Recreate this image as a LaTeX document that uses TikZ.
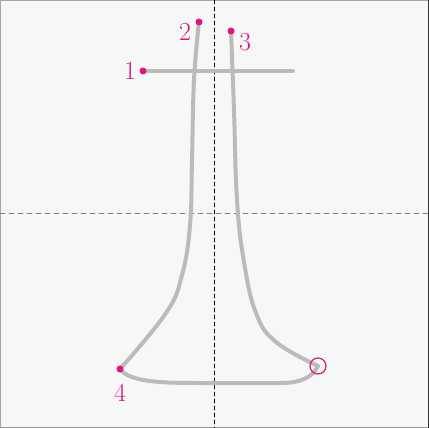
\documentclass[tikz,border=0pt]{standalone}
\usepackage{tikz}
\definecolor{bgpaper}{HTML}{F6F8F7}
\definecolor{strokegray}{HTML}{BBBBBB}
\definecolor{markpink}{HTML}{E0157F}
\tikzset{
  stroke/.style={strokegray,line width=4pt,line cap=round,line join=round},
  startdot/.style={markpink},
  numlabel/.style={text=markpink,font=\fontsize{26}{26}\selectfont,inner sep=0pt}
}
\begin{document}
\begin{tikzpicture}[x=1pt,y=-1pt,line cap=round,line join=round]
  % 背景与边框
  \fill[bgpaper] (0,0) rectangle (429,428);
  \useasboundingbox (0,0) rectangle (429,428);
  \draw[gray!70,line width=1.5pt] (0,428) -- (0,0) -- (429,0);
  \draw[gray!80,line width=1.5pt] (0,428) -- (429,428);
  \draw[black!80,line width=1.5pt] (429,0) -- (429,428);

  % 十字辅助虚线
  \draw[gray,dash pattern=on 5pt off 4pt,line width=0.8pt] (0,213) -- (429,213);
  \draw[black,dash pattern=on 4pt off 3pt,line width=0.8pt] (214,0) -- (214,428);

  % 第1画：横
  \draw[stroke] (143,71) -- (293,71);

  % 第2画：左竖撇
  \draw[stroke] plot[smooth,tension=0.7] coordinates
    {(199,22) (194,80) (192,160) (190,225) (182,275) (166,313) (120,369)};

  % 第3画：右竖
  \draw[stroke] plot[smooth,tension=0.7] coordinates
    {(231,31) (234,110) (237,200) (244,262) (256,313) (276,342) (318,366)};

  % 第4画：底横
  \draw[stroke] (120,369) .. controls (130,382) and (160,383) .. (200,383)
    -- (280,383) .. controls (300,383) and (312,378) .. (318,366);

  % 起笔点与序号
  \fill[startdot] (143,71) circle (3.5pt);
  \fill[startdot] (199,22) circle (3.5pt);
  \fill[startdot] (231,31) circle (3.5pt);
  \fill[startdot] (120,369) circle (3.5pt);
  \node[numlabel] (n1) at (130,71) {1};
  \node[numlabel] (n2) at (185,32) {2};
  \node[numlabel] (n3) at (245,42) {3};
  \node[numlabel] (n4) at (120,393) {4};

  % 收笔圈
  \draw[markpink,line width=1.2pt] (318,366) circle (8pt);
\end{tikzpicture}
\end{document}
